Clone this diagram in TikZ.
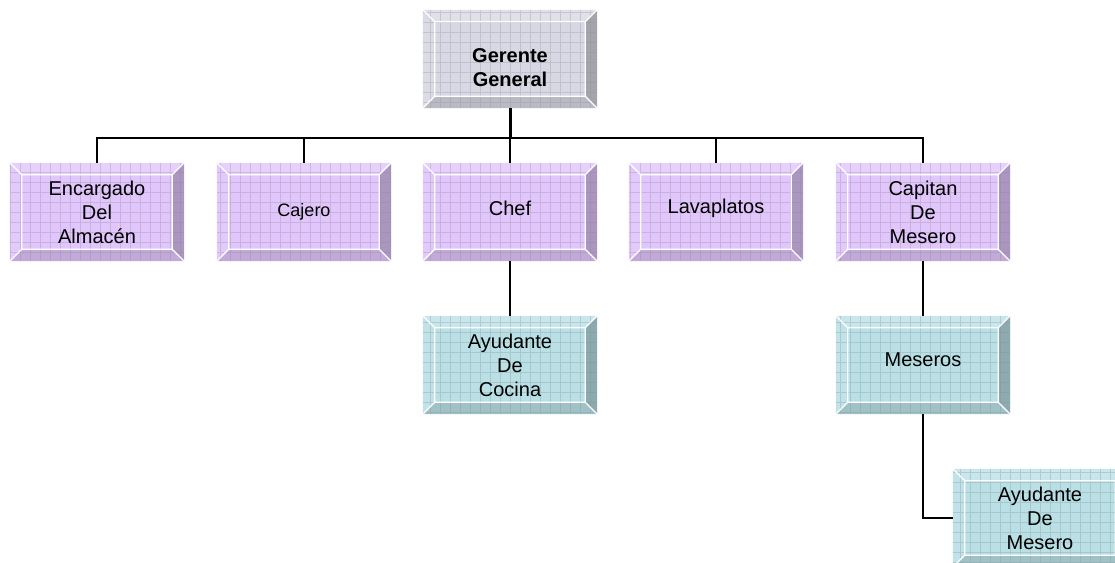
\documentclass[tikz,border=0pt]{standalone}
\usepackage{fontspec}
\setmainfont{Liberation Sans}
\usetikzlibrary{calc, backgrounds}

\definecolor{lila}{RGB}{224,198,250}
\definecolor{agua}{RGB}{186,224,230}
\definecolor{gris}{RGB}{216,216,228}

\begin{document}
\begin{tikzpicture}[x=1pt, y=1pt,
    caja/.style={minimum width=174pt, minimum height=98pt, inner sep=0pt,
        align=center, font=\fontsize{20}{24}\selectfont},
    texto/.style={align=center, font=\fontsize{20}{24}\selectfont},
    linea/.style={line width=2pt},
    rejilla/.style={step=10pt, line width=0.4pt, opacity=0.3}]
    \useasboundingbox (0,0) rectangle (1115,562);

    % Boxes of the chart
    \node[caja, label={[texto, font=\bfseries\fontsize{20}{24}\selectfont, yshift=-9pt]center:{Gerente\\General}}] (gg) at (510,503) {};
    \node[caja] (enc) at (97,350) {Encargado\\Del\\Almacén};
    \node[caja, font=\fontsize{18}{22}\selectfont] (caj) at (304,350) {Cajero};
    \node[caja, label={[texto, yshift=4pt]center:Chef}] (chef) at (510,350) {};
    \node[caja, label={[texto, yshift=4pt]center:Lavaplatos}] (lava) at (716,350) {};
    \node[caja] (cap) at (923,350) {Capitan\\De\\Mesero};
    \node[caja] (aco) at (510,197) {Ayudante\\De\\Cocina};
    \node[caja, label={[texto, yshift=5pt]center:Meseros}] (mes) at (923,197) {};
    \node[caja] (aym) at (1040,44) {Ayudante\\De\\Mesero};

    % Bevelled faces behind the text
    \begin{scope}[on background layer]
    \foreach \n/\c in {gg/gris, enc/lila, caj/lila, chef/lila, lava/lila,
                       cap/lila, aco/agua, mes/agua, aym/agua} {
        \coordinate (a) at ($(\n.north west)+(12,-12)$);
        \coordinate (b) at ($(\n.north east)+(-12,-12)$);
        \coordinate (c) at ($(\n.south east)+(-12,12)$);
        \coordinate (d) at ($(\n.south west)+(12,12)$);
        \fill[\c!80!white] (\n.north west) -- (\n.north east) -- (b) -- (a) -- cycle;
        \fill[\c!92!white] (\n.north west) -- (a) -- (d) -- (\n.south west) -- cycle;
        \fill[\c!76!black] (\n.north east) -- (\n.south east) -- (c) -- (b) -- cycle;
        \fill[\c!86!black] (\n.south west) -- (d) -- (c) -- (\n.south east) -- cycle;
        \fill[\c] (a) rectangle (c);
        \begin{scope}
            \clip (\n.south west) rectangle (\n.north east);
            \draw[rejilla, \c!65!black] (\n.south west) grid (\n.north east);
        \end{scope}
        \draw[white, line width=1.2pt] (a) rectangle (c)
            (\n.north west) -- (a) (\n.north east) -- (b)
            (\n.south east) -- (c) (\n.south west) -- (d);
    }
    \end{scope}

    % Connectors
    \draw[line width=3pt] (gg.south) -- ++(0,-30) coordinate (barra);
    \foreach \n in {enc, caj, chef, lava, cap}
        \draw[linea] (barra) -| (\n.north);
    \draw[linea] (chef.south) -- (aco.north);
    \draw[linea] (cap.south) -- (mes.north);
    \draw[linea] (mes.south) |- (aym.west);
\end{tikzpicture}
\end{document}
